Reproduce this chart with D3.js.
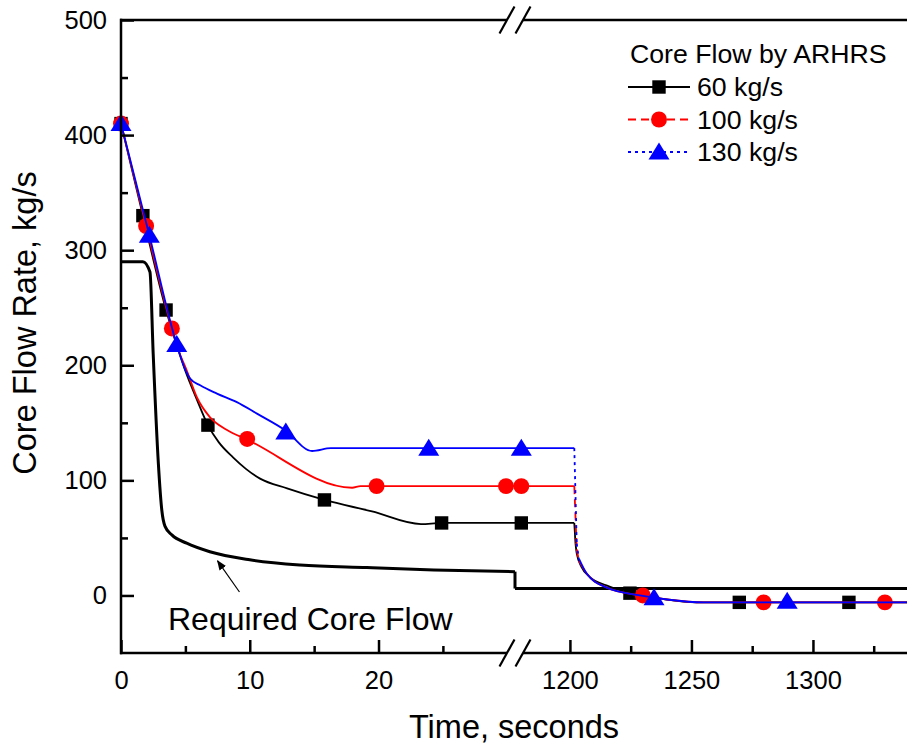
<!DOCTYPE html>
<html>
<meta charset="utf-8">
<head>
<script src="https://d3js.org/d3.v7.min.js"></script>
<style>
	body { margin: 0; background: #fff; }
	svg text { font-family: "Liberation Sans", Arial, Helvetica, sans-serif; fill: #000; }
</style>
</head>
<body>
<script>
// ---- data (time in s, flow in kg/s) ----
var requiredFlow = [[0,290],[1.7,290],[2.25,281],[2.5,210],[2.9,115],[3.17,74],[3.42,60],[3.95,52.6],
	[5.1,45.4],[6.9,38],[10,31],[13.9,26.5],[19.1,24.2],[24.3,22.2],[30.6,20.7],[1177.4,6],[1338.7,6]];

var flow60 = [[0,410],[1.7,330],[3.5,248],[4.4,215],[5.0,195],[5.9,170],[6.75,148],[7.6,133],[8.7,120],
	[9.7,110],[10.8,101.5],[12.9,93],[15.8,83],[19.5,73],[23.3,62],[24.9,63],[1201.8,63],[1202.3,45],
	[1202.8,36.5],[1204.8,24.6],[1208.2,16],[1215,8.7],[1223.3,2.9],[1238,-3],[1252,-6],[1338.7,-6]];

var flow100 = [[0,410],[1.95,321],[3.95,232],[4.5,212],[5.1,195.6],[5.9,172],[6.9,155],[8.2,144],[9.8,135.4],
	[17.95,93.6],[18.6,95],[1201.8,95],[1202.8,40],[1203.7,30],[1206.9,19],[1215,7],[1228.8,0],[1240,-3.5],
	[1255,-6],[1338.7,-6]];

var flow130 = [[0,410],[2.2,313],[4.33,218],[5.0,196],[5.37,188.4],[6.15,182.6],[7.45,175.4],[9.0,168],
	[10.56,158],[12.76,143.5],[14.84,125.5],[16.3,128],[1201.8,128],[1202.8,45],[1203.7,32],[1206.9,19],
	[1215,7],[1228.8,0],[1240,-3.5],[1255,-6],[1338.7,-6]];

var marks60 = [[0,410],[1.7,330],[3.5,248],[6.75,148],[15.8,83],[24.9,63],[1180,63],[1224.7,2],[1269.7,-6],[1314.8,-6]];
var marks100 = [[0,410],[1.95,321],[3.95,232],[9.8,136],[19.85,95],[29.9,95],[1180,95],[1230,0],[1279.7,-6],[1329.6,-6]];
var marks130 = [[0,410],[2.2,313],[4.33,218],[12.8,142],[23.9,128],[1180,128],[1234.6,-2],[1289.4,-5]];

var seriesNames = ["60 kg/s", "100 kg/s", "130 kg/s"];
var legendTitle = "Core Flow by ARHRS";

var xMajor = [0, 10, 20, 1200, 1250, 1300];
var xMinor = [5, 15, 25, 1225, 1275, 1325];
var yMajor = [0, 100, 200, 300, 400, 500];
var yMinor = [50, 150, 250, 350, 450];

// broken time axis: [0, 30.6] then [1177.4, 1338.7]
var xDomain = [0, 30.6, 1177.4, 1338.7];
var yDomain = [-50, 500];

var arrowTip = [7.5, 30], arrowTail = [9.2, 3];

// ---- layout ----
var width = 907, height = 750;
var plotL = 121, plotR = 907, plotT = 20, plotB = 653, breakX = 515;

var x = d3.scaleLinear().domain(xDomain).range([plotL, breakX, breakX, plotR]);
var y = d3.scaleLinear().domain(yDomain).range([plotB, plotT]);

var svg = d3.select("body").append("svg")
	.attr("width", width)
	.attr("height", height);

var line = d3.line().x(function(d){ return x(d[0]); }).y(function(d){ return y(d[1]); });
var smooth = d3.line().x(function(d){ return x(d[0]); }).y(function(d){ return y(d[1]); })
	.curve(d3.curveMonotoneX);

// draw a series: smooth runs, steep vertical drops as straight (optionally dashed) segments
function drawSeries(data, color, dash, sw) {
	var g = svg.append("g");
	var runs = [[data[0]]];
	for (var i = 1; i < data.length; i++) {
		var dx = Math.abs(x(data[i][0]) - x(data[i-1][0]));
		var dy = Math.abs(y(data[i][1]) - y(data[i-1][1]));
		if (dy > 10 && dx < 3) {
			g.append("path").datum([data[i-1], data[i]]).attr("d", line)
				.attr("fill", "none").attr("stroke", color).attr("stroke-width", sw)
				.attr("stroke-dasharray", dash);
			runs.push([data[i]]);
		} else {
			runs[runs.length-1].push(data[i]);
		}
	}
	runs.forEach(function(r){
		if (r.length < 2) return;
		g.append("path").datum(r).attr("d", smooth)
			.attr("fill", "none").attr("stroke", color).attr("stroke-width", sw)
			.attr("stroke-linejoin", "round");
	});
	return g;
}

var symSquare = d3.symbol().type(d3.symbolSquare).size(180)();
var symCircle = d3.symbol().type(d3.symbolCircle).size(200)();
var symTriangle = "M0,-9.5L10.5,7.5L-10.5,7.5Z";

function drawMarks(data, path, color) {
	svg.append("g").selectAll("path")
		.data(data).enter()
		.append("path")
		.attr("d", path)
		.attr("fill", color)
		.attr("transform", function(d){ return "translate(" + x(d[0]) + "," + y(d[1]) + ")"; });
}

drawSeries(requiredFlow, "#000", null, 3);
drawSeries(flow60, "#000", null, 1.8);
drawMarks(marks60, symSquare, "#000");
drawSeries(flow100, "#ff0000", "8,5", 1.8);
drawMarks(marks100, symCircle, "#ff0000");
drawSeries(flow130, "#0000ff", "3,4", 1.8);
drawMarks(marks130, symTriangle, "#0000ff");

// ---- axes ----
var axisG = svg.append("g");

axisG.append("g")
	.attr("transform", "translate(0," + plotB + ")")
	.call(d3.axisBottom(x).tickValues(xMajor).tickSize(-13).tickPadding(18).tickFormat(d3.format("d")));
axisG.append("g")
	.attr("transform", "translate(0," + plotB + ")")
	.call(d3.axisBottom(x).tickValues(xMinor).tickSize(-7).tickFormat(""));
axisG.append("g")
	.attr("transform", "translate(" + plotL + ",0)")
	.call(d3.axisLeft(y).tickValues(yMajor).tickSize(-13).tickPadding(14).tickFormat(d3.format("d")));
axisG.append("g")
	.attr("transform", "translate(" + plotL + ",0)")
	.call(d3.axisLeft(y).tickValues(yMinor).tickSize(-7).tickFormat(""));

axisG.selectAll(".domain").remove();
axisG.selectAll(".tick line").attr("stroke", "#000").attr("stroke-width", 2.5);
axisG.selectAll(".tick text").style("font-size", "25.5px").attr("fill", "#000");

// frame with the break
var gapL = breakX - 8, gapR = breakX + 8;
[plotT, plotB].forEach(function(yy){
	axisG.append("line").attr("x1", plotL - 1).attr("x2", gapL).attr("y1", yy).attr("y2", yy)
		.attr("stroke", "#000").attr("stroke-width", 2.5);
	axisG.append("line").attr("x1", gapR).attr("x2", plotR).attr("y1", yy).attr("y2", yy)
		.attr("stroke", "#000").attr("stroke-width", 2.5);
	[gapL, gapR].forEach(function(xx){
		axisG.append("line").attr("x1", xx - 7.5).attr("y1", yy + 13.5)
			.attr("x2", xx + 7.5).attr("y2", yy - 13.5)
			.attr("stroke", "#000").attr("stroke-width", 2.2);
	});
});
axisG.append("line").attr("x1", plotL).attr("x2", plotL).attr("y1", plotT - 1.2).attr("y2", plotB + 1.2)
	.attr("stroke", "#000").attr("stroke-width", 2.5);

// axis titles
svg.append("text")
	.attr("x", 514)
	.attr("y", 738)
	.attr("text-anchor", "middle")
	.style("font-size", "32.5px")
	.text("Time, seconds");

svg.append("text")
	.attr("transform", "translate(36,323) rotate(-90)")
	.attr("text-anchor", "middle")
	.style("font-size", "32.5px")
	.text("Core Flow Rate, kg/s");

// annotation
svg.append("defs").append("marker")
	.attr("id", "arr")
	.attr("viewBox", "0 0 10 10")
	.attr("refX", 9).attr("refY", 5)
	.attr("markerWidth", 10).attr("markerHeight", 10)
	.attr("markerUnits", "userSpaceOnUse")
	.attr("orient", "auto")
	.append("path").attr("d", "M0,1L10,5L0,9Z").attr("fill", "#000");

svg.append("line")
	.attr("x1", x(arrowTail[0])).attr("y1", y(arrowTail[1]))
	.attr("x2", x(arrowTip[0])).attr("y2", y(arrowTip[1]))
	.attr("stroke", "#000").attr("stroke-width", 1.2)
	.attr("marker-end", "url(#arr)");

svg.append("text")
	.attr("x", 168).attr("y", 630)
	.style("font-size", "32px")
	.text("Required Core Flow");

// legend
var legend = svg.append("g").attr("transform", "translate(628,0)");
legend.append("text").attr("x", 2).attr("y", 63).style("font-size", "26.7px").text(legendTitle);

var legendColors = ["#000", "#ff0000", "#0000ff"];
var legendDash = [null, "8,5", "3,4"];
var legendSym = [symSquare, symCircle, symTriangle];
seriesNames.forEach(function(name, i){
	var cy = 87 + i * 32.5;
	legend.append("line").attr("x1", 0).attr("x2", 62).attr("y1", cy).attr("y2", cy)
		.attr("stroke", legendColors[i]).attr("stroke-width", 1.8)
		.attr("stroke-dasharray", legendDash[i]);
	legend.append("path").attr("d", legendSym[i]).attr("fill", legendColors[i])
		.attr("transform", "translate(31," + cy + ")");
	legend.append("text").attr("x", 69).attr("y", cy).attr("dy", "0.35em")
		.style("font-size", "26.7px").text(name);
});
</script>
</body>
</html>
